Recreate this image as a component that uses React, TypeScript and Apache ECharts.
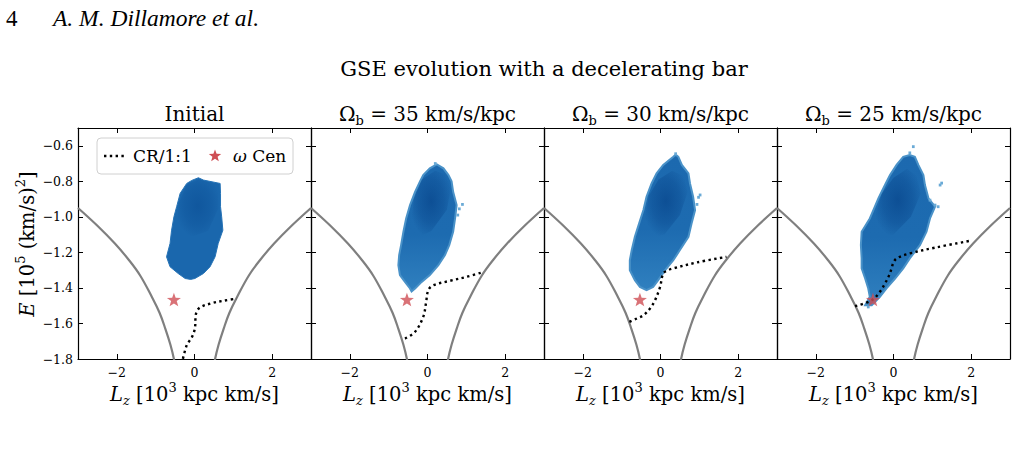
import React, { useEffect, useRef } from 'react';
import * as echarts from 'echarts';

const FONT = 'DejaVu Serif';
const HEADER_FONT = 'Liberation Serif';

// Panel geometry (pixels)
const PANEL_LEFTS = [78, 311, 544, 777];
const PANEL_TOP = 128;
const PANEL_W = 233;
const PANEL_H = 231;

// Bar pattern speed per panel (km/s/kpc); the first panel is the initial state
const patternSpeeds = [null, 35, 30, 25];

const lzTicks = [-2, 0, 2];
const energyTicks = [-1.8, -1.6, -1.4, -1.2, -1.0, -0.8, -0.6];

// omega Cen in (Lz, E)
const omegaCen = [-0.53, -1.465];

// Circular-orbit envelope, retrograde and prograde branches
const circularRetro = [
  [-3.0, -0.95], [-2.5, -1.05], [-2.05, -1.15], [-1.7, -1.24], [-1.4, -1.33],
  [-1.1, -1.45], [-0.9, -1.54], [-0.75, -1.63], [-0.62, -1.72], [-0.53, -1.8], [-0.5, -1.85],
];
const circularPro = [
  [0.5, -1.85], [0.53, -1.8], [0.62, -1.72], [0.75, -1.63], [0.9, -1.54], [1.1, -1.45],
  [1.4, -1.33], [1.7, -1.24], [2.05, -1.15], [2.5, -1.05], [3.0, -0.95],
];

// Corotation / 1:1 resonance tracks
const resonanceInitial = [
  [-0.33, -1.83], [-0.2, -1.722], [-0.07, -1.679], [0.01, -1.628], [0.04, -1.544],
  [0.14, -1.51], [0.48, -1.484], [0.75, -1.472], [1.09, -1.46],
];
const resonance35 = [
  [-0.58, -1.685], [-0.32, -1.647], [-0.11, -1.563], [-0.04, -1.488], [0.02, -1.413],
  [0.15, -1.385], [0.58, -1.36], [1.0, -1.338], [1.4, -1.313],
];
const resonance30 = [
  [-0.8, -1.591], [-0.61, -1.572], [-0.44, -1.554], [-0.27, -1.516], [-0.14, -1.469],
  [-0.01, -1.394], [0.07, -1.319], [0.2, -1.3], [0.33, -1.29], [0.93, -1.257], [1.7, -1.225],
];
const resonance25 = [
  [-0.99, -1.503], [-0.56, -1.469], [-0.35, -1.422], [-0.22, -1.375], [-0.11, -1.328],
  [-0.05, -1.29], [-0.01, -1.262], [0.08, -1.234], [0.42, -1.206], [1.1, -1.172], [1.97, -1.135],
];

// Outlines of the GSE debris in (Lz, E)
const gseInitial = [
  [0.1, -0.78], [-0.07, -0.795], [-0.2, -0.812], [-0.37, -0.868], [-0.46, -0.943],
  [-0.53, -1.0], [-0.59, -1.075], [-0.63, -1.15], [-0.72, -1.225], [-0.63, -1.281],
  [-0.42, -1.319], [-0.24, -1.347], [-0.1, -1.352], [0.01, -1.347], [0.23, -1.319],
  [0.4, -1.281], [0.53, -1.225], [0.61, -1.15], [0.73, -1.075], [0.7, -1.0],
  [0.67, -0.943], [0.67, -0.868], [0.66, -0.812], [0.23, -0.793],
];
const gse35 = [
  [0.24, -0.705], [0.06, -0.727], [-0.11, -0.765], [-0.19, -0.8], [-0.32, -0.859],
  [-0.45, -0.934], [-0.55, -1.009], [-0.62, -1.084], [-0.68, -1.159], [-0.73, -1.215],
  [-0.75, -1.272], [-0.71, -1.328], [-0.58, -1.366], [-0.45, -1.403], [-0.41, -1.42],
  [-0.32, -1.403], [-0.15, -1.366], [0.06, -1.328], [0.28, -1.272], [0.45, -1.215],
  [0.56, -1.159], [0.66, -1.084], [0.71, -1.009], [0.75, -0.934], [0.66, -0.859],
  [0.62, -0.8], [0.54, -0.765], [0.41, -0.727],
];
const gse30 = [
  [0.39, -0.65], [0.33, -0.662], [0.07, -0.708], [-0.1, -0.755], [-0.23, -0.812],
  [-0.36, -0.887], [-0.44, -0.962], [-0.55, -1.037], [-0.66, -1.112], [-0.74, -1.187],
  [-0.79, -1.244], [-0.79, -1.3], [-0.66, -1.356], [-0.53, -1.394], [-0.36, -1.413],
  [-0.19, -1.394], [-0.06, -1.356], [0.12, -1.3], [0.33, -1.244], [0.5, -1.187],
  [0.72, -1.112], [0.8, -1.037], [0.89, -0.962], [0.84, -0.887], [0.76, -0.812],
  [0.72, -0.755], [0.55, -0.708], [0.46, -0.662],
];
const gse25 = [
  [0.42, -0.652], [0.25, -0.662], [0.08, -0.708], [-0.09, -0.765], [-0.22, -0.821],
  [-0.39, -0.896], [-0.48, -0.943], [-0.61, -1.009], [-0.82, -1.084], [-0.84, -1.159],
  [-0.82, -1.234], [-0.82, -1.29], [-0.73, -1.347], [-0.65, -1.403], [-0.61, -1.45],
  [-0.73, -1.497], [-0.56, -1.497], [-0.35, -1.45], [-0.18, -1.403], [0.04, -1.347],
  [0.25, -1.29], [0.42, -1.234], [0.68, -1.159], [0.85, -1.084], [0.94, -1.009],
  [1.07, -0.943], [0.9, -0.896], [0.81, -0.821], [0.77, -0.765], [0.64, -0.708], [0.55, -0.662],
];

// Densest part of each distribution
const coreInitial = [
  [0.1, -0.79], [-0.2, -0.82], [-0.4, -0.92], [-0.45, -1.05], [-0.2, -1.12],
  [0.35, -1.08], [0.62, -0.95], [0.6, -0.82],
];
const core35 = [
  [0.2, -0.74], [-0.15, -0.79], [-0.35, -0.9], [-0.42, -1.03], [-0.3, -1.12],
  [0.1, -1.08], [0.5, -0.96], [0.6, -0.84], [0.45, -0.76],
];
const core30 = [
  [0.3, -0.74], [-0.05, -0.79], [-0.3, -0.88], [-0.42, -1.02], [-0.32, -1.12],
  [0.1, -1.1], [0.5, -0.99], [0.7, -0.86], [0.6, -0.77],
];
const core25 = [
  [0.35, -0.73], [0.0, -0.78], [-0.3, -0.87], [-0.48, -1.0], [-0.42, -1.12],
  [0.0, -1.1], [0.45, -1.0], [0.7, -0.87], [0.6, -0.77],
];

// Isolated sparse bins outside the main body
const straysInitial: number[][] = [];
const strays35 = [[0.9, -0.93], [0.82, -0.955], [0.78, -0.99], [0.2, -0.7]];
const strays30 = [[1.02, -0.877], [0.98, -0.89], [0.39, -0.645], [0.94, -0.93]];
const strays25 = [
  [0.51, -0.605], [1.24, -0.81], [1.2, -0.821], [1.15, -0.943], [1.07, -0.934],
  [0.94, -0.906], [-0.65, -1.507], [0.42, -0.64],
];

const outlines = [gseInitial, gse35, gse30, gse25];
const cores = [coreInitial, core35, core30, core25];
const strays = [straysInitial, strays35, strays30, strays25];
const resonances = [resonanceInitial, resonance35, resonance30, resonance25];

const STAR = 'path://M0,-10 L2.35,-3.24 L9.51,-3.09 L3.8,1.24 L5.88,8.09 L0,4.5 L-5.88,8.09 L-3.8,1.24 L-9.51,-3.09 L-2.35,-3.24 Z';
const STAR_COLOR = '#cf4f55';

const minus = (s: string) => s.replace('-', '\u2212');

function starPoints(cx: number, cy: number, r: number) {
  const pts: number[][] = [];
  for (let k = 0; k < 10; k++) {
    const rad = k % 2 === 0 ? r : r * 0.42;
    const a = -Math.PI / 2 + (k * Math.PI) / 5;
    pts.push([cx + rad * Math.cos(a), cy + rad * Math.sin(a)]);
  }
  return pts;
}

function polygonSeries(points: number[][], idx: number, style: any, z: number) {
  return {
    type: 'custom',
    xAxisIndex: idx,
    yAxisIndex: idx,
    clip: true,
    z,
    silent: true,
    data: points,
    renderItem: (params: any, api: any) =>
      params.dataIndex === 0
        ? { type: 'polygon', shape: { points: points.map((p) => api.coord(p)) }, style }
        : null,
  };
}

function buildOption() {
  const grid: any[] = [];
  const xAxis: any[] = [];
  const yAxis: any[] = [];
  const series: any[] = [];
  const graphic: any[] = [];

  const lineStyle = { color: '#000', width: 1.2 };
  const tick = (vals: number[]) => ({
    show: true, inside: true, length: 5, customValues: vals, lineStyle: { color: '#000', width: 1 },
  });

  PANEL_LEFTS.forEach((left, i) => {
    grid.push({ left, top: PANEL_TOP, width: PANEL_W, height: PANEL_H, show: false });
    const xBase = { gridIndex: i, type: 'value', min: -3, max: 3, splitLine: { show: false } };
    xAxis.push({
      ...xBase, position: 'bottom',
      axisLine: { show: true, onZero: false, lineStyle },
      axisTick: tick(lzTicks),
      axisLabel: {
        show: true, customValues: lzTicks, margin: 7, color: '#000', fontFamily: FONT, fontSize: 12.5,
        formatter: (v: number) => minus(String(Math.round(v))),
      },
    });
    xAxis.push({
      ...xBase, position: 'top',
      axisLine: { show: true, onZero: false, lineStyle },
      axisTick: tick(lzTicks), axisLabel: { show: false },
    });
    const yBase = { gridIndex: i, type: 'value', min: -1.8, max: -0.5, splitLine: { show: false } };
    yAxis.push({
      ...yBase, position: 'left',
      axisLine: { show: true, onZero: false, lineStyle },
      axisTick: tick(energyTicks),
      axisLabel: {
        show: i === 0, customValues: energyTicks, margin: 5, color: '#000', fontFamily: FONT, fontSize: 12.5,
        formatter: (v: number) => minus(v.toFixed(1)),
      },
    });
    yAxis.push({
      ...yBase, position: 'right',
      axisLine: { show: true, onZero: false, lineStyle },
      axisTick: tick(energyTicks), axisLabel: { show: false },
    });

    const ax = 2 * i;
    const first = i === 0;
    const bodyFill = first
      ? '#1a67ad'
      : new echarts.graphic.LinearGradient(0, 0, 0, 1, [
          { offset: 0, color: '#1c69af' },
          { offset: 0.55, color: '#1d6bb0' },
          { offset: 1, color: '#3080bf' },
        ]);
    series.push(polygonSeries(outlines[i], ax, {
      fill: bodyFill, stroke: first ? '#2673b6' : '#4a92c8', lineWidth: first ? 1 : 2,
    }, 1));
    series.push(polygonSeries(cores[i], ax, {
      fill: new echarts.graphic.RadialGradient(0.5, 0.45, 0.55, [
        { offset: 0, color: first ? 'rgba(8,74,145,0.55)' : 'rgba(8,70,140,0.75)' },
        { offset: 0.6, color: first ? 'rgba(8,74,145,0.3)' : 'rgba(8,70,140,0.4)' },
        { offset: 1, color: 'rgba(8,70,140,0)' },
      ]),
    }, 2));
    series.push({
      type: 'custom', xAxisIndex: ax, yAxisIndex: ax, clip: true, z: 2, silent: true,
      data: strays[i],
      renderItem: (_p: any, api: any) => {
        const c = api.coord([api.value(0), api.value(1)]);
        const s = api.size([0.07, 0.016]);
        return { type: 'rect', shape: { x: c[0] - s[0] / 2, y: c[1] - s[1] / 2, width: s[0], height: s[1] }, style: { fill: '#6aaad6' } };
      },
    });
    [circularRetro, circularPro].forEach((branch) => {
      series.push({
        type: 'line', xAxisIndex: ax, yAxisIndex: ax, data: branch, smooth: 0.4, showSymbol: false,
        clip: true, silent: true, z: 3, lineStyle: { color: '#7f7f7f', width: 2.2 },
      });
    });
    series.push({
      type: 'line', name: 'CR/1:1', xAxisIndex: ax, yAxisIndex: ax, data: resonances[i], smooth: 0.35,
      showSymbol: false, clip: true, silent: true, z: 4,
      lineStyle: { color: '#000', width: 2.4, type: [2.4, 3.4] },
    });
    series.push({
      type: 'scatter', name: '\u03c9 Cen', xAxisIndex: ax, yAxisIndex: ax, data: [omegaCen],
      symbol: STAR, symbolSize: 14, symbolKeepAspect: true, z: 5, silent: true,
      itemStyle: { color: STAR_COLOR },
    });

    const cx = left + PANEL_W / 2;
    const speed = patternSpeeds[i];
    graphic.push({
      type: 'text', x: cx, y: 114, z: 10,
      style: speed === null
        ? { text: 'Initial', fontFamily: FONT, fontSize: 20, fill: '#000', align: 'center', verticalAlign: 'middle' }
        : {
            text: `{m|\u03a9}{s|b}{m| = ${speed} km/s/kpc}`,
            align: 'center', verticalAlign: 'middle', fill: '#000',
            rich: {
              m: { fontFamily: FONT, fontSize: 20, lineHeight: 26, fill: '#000' },
              s: { fontFamily: FONT, fontSize: 13, lineHeight: 14, verticalAlign: 'bottom', fill: '#000' },
            },
          },
    });
    graphic.push({
      type: 'text', x: cx, y: 394, z: 10,
      style: {
        text: '{i|L}{s|z}{m| [10}{u|3}{m| kpc km/s]}',
        align: 'center', verticalAlign: 'middle', fill: '#000',
        rich: {
          i: { fontFamily: FONT, fontStyle: 'italic', fontSize: 19.5, lineHeight: 26 },
          s: { fontFamily: FONT, fontStyle: 'italic', fontSize: 13, lineHeight: 14, verticalAlign: 'bottom' },
          m: { fontFamily: FONT, fontSize: 19.5, lineHeight: 26 },
          u: { fontFamily: FONT, fontSize: 13, lineHeight: 14, verticalAlign: 'top' },
        },
      },
    });
  });

  // Page header and figure title
  graphic.push({ type: 'text', x: 6, y: 18, style: { text: '4', fontFamily: HEADER_FONT, fontSize: 23, fill: '#000', verticalAlign: 'middle' } });
  graphic.push({
    type: 'text', x: 53, y: 18,
    style: { text: 'A. M. Dillamore et al.', fontFamily: HEADER_FONT, fontStyle: 'italic', fontSize: 23.5, fill: '#000', verticalAlign: 'middle' },
  });
  graphic.push({
    type: 'text', x: 544, y: 69,
    style: { text: 'GSE evolution with a decelerating bar', fontFamily: FONT, fontSize: 21, fill: '#000', align: 'center', verticalAlign: 'middle' },
  });
  // Energy axis name
  graphic.push({
    type: 'text', x: 27, y: 244, rotation: Math.PI / 2,
    style: {
      text: '{i|E}{m| [10}{u|5}{m| (km/s)}{u|2}{m|]}',
      align: 'center', verticalAlign: 'middle', fill: '#000',
      rich: {
        i: { fontFamily: FONT, fontStyle: 'italic', fontSize: 19.5, lineHeight: 26 },
        m: { fontFamily: FONT, fontSize: 19.5, lineHeight: 26 },
        u: { fontFamily: FONT, fontSize: 13, lineHeight: 14, verticalAlign: 'top' },
      },
    },
  });

  // Legend box in the first panel
  graphic.push({
    type: 'group', z: 20,
    children: [
      { type: 'rect', shape: { x: 97, y: 138, width: 196, height: 36, r: 4 }, style: { fill: 'rgba(255,255,255,0.85)', stroke: '#d0d0d0', lineWidth: 1 } },
      { type: 'line', shape: { x1: 104, y1: 156, x2: 124, y2: 156 }, style: { stroke: '#000', lineWidth: 2.4, lineDash: [2.4, 3.4] } },
      { type: 'text', x: 133, y: 156, style: { text: 'CR/1:1', fontFamily: FONT, fontSize: 17, fill: '#000', verticalAlign: 'middle' } },
      { type: 'polygon', shape: { points: starPoints(215, 156, 6.5) }, style: { fill: STAR_COLOR } },
      {
        type: 'text', x: 233, y: 156,
        style: {
          text: '{i|\u03c9}{m| Cen}', verticalAlign: 'middle', fill: '#000',
          rich: {
            i: { fontFamily: FONT, fontStyle: 'italic', fontSize: 17 },
            m: { fontFamily: FONT, fontSize: 17 },
          },
        },
      },
    ],
  });

  return { animation: false, backgroundColor: '#fff', grid, xAxis, yAxis, series, graphic };
}

export default function App() {
  const ref = useRef<HTMLDivElement>(null);
  useEffect(() => {
    if (!ref.current) return;
    const chart = echarts.init(ref.current, undefined, { renderer: 'svg' });
    chart.setOption(buildOption() as any);
    return () => chart.dispose();
  }, []);
  return <div ref={ref} style={{ width: 1017, height: 457, position: 'absolute', left: 0, top: 0 }} />;
}
